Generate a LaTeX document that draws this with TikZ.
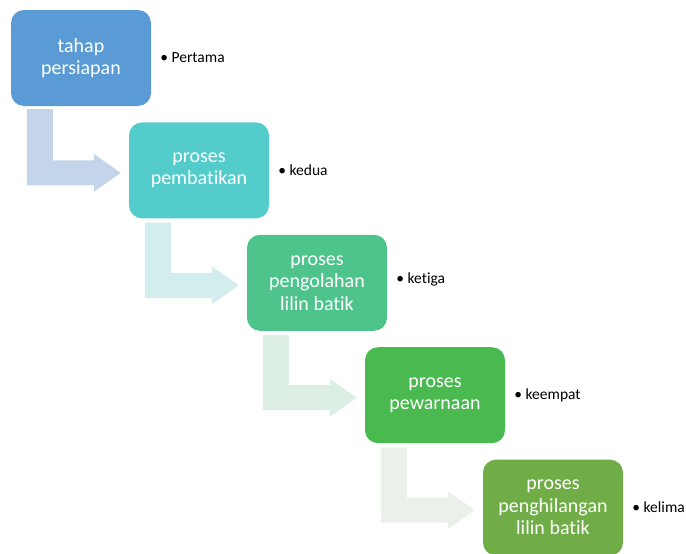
\documentclass[tikz,border=0pt]{standalone}
\usepackage{fontspec}
\setmainfont{Carlito}[Ligatures={NoCommon}]
\usetikzlibrary{positioning,calc}
\definecolor{StageBlue}{RGB}{91,155,213}
\definecolor{StageTeal}{RGB}{84,204,204}
\definecolor{StageSea}{RGB}{78,196,140}
\definecolor{StageGreen}{RGB}{74,185,80}
\definecolor{StageOlive}{RGB}{112,173,71}
\definecolor{ArrowBlue}{RGB}{196,213,235}
\definecolor{ArrowTeal}{RGB}{211,236,236}
\definecolor{ArrowSea}{RGB}{221,239,229}
\definecolor{ArrowGreen}{RGB}{233,241,232}
\tikzset{
  stagebox/.style={rounded corners=13pt,minimum width=140pt,minimum height=96pt,
    inner sep=0pt,align=center,text=white,font=\fontsize{20}{22.5}\selectfont},
  tagtext/.style={inner sep=0pt,font=\fontsize{15.5}{18}\selectfont},
  bentflow/.style={draw=none}
}
\begin{document}
\begin{tikzpicture}
  \useasboundingbox (0,0) rectangle (686pt,-554pt);
  \node[stagebox,fill=StageBlue] (tahap) at (81pt,-58pt) {tahap\\persiapan};
  \node[stagebox,fill=StageTeal,below=16pt of tahap,xshift=118pt] (pembatikan) {proses\\pembatikan};
  \node[stagebox,fill=StageSea,below=16pt of pembatikan,xshift=118pt] (pengolahan) {proses\\pengolahan\\lilin batik};
  \node[stagebox,fill=StageGreen,below=16pt of pengolahan,xshift=118pt] (pewarnaan) {proses\\pewarnaan};
  \node[stagebox,fill=StageOlive,below=16pt of pewarnaan,xshift=118pt] (penghilangan) {proses\\penghilangan\\lilin batik};
  \node[tagtext,right=9pt of tahap] (pertama) {• Pertama};
  \node[tagtext,right=9pt of pembatikan] (kedua) {• kedua};
  \node[tagtext,right=9pt of pengolahan,yshift=3pt] (ketiga) {• ketiga};
  \node[tagtext,right=9pt of pewarnaan] (keempat) {• keempat};
  \node[tagtext,right=9pt of penghilangan] (kelima) {• kelima};
  % bent arrows between the stages
  \fill[bentflow,ArrowBlue] ($(tahap.south west)+(16pt,-3pt)$) coordinate (a1) -- ++(26pt,0)
    |- ($(pembatikan.west)+(-35pt,10pt)$) -- ++(0,6.5pt) -- ($(pembatikan.west)+(-8pt,-2.5pt)$)
    -- ++(-27pt,-19pt) -- ++(0,6.5pt) -| (a1) -- cycle;
  \fill[bentflow,ArrowTeal] ($(pembatikan.south west)+(16pt,-4pt)$) coordinate (a2) -- ++(26pt,0)
    |- ($(pengolahan.west)+(-35pt,10pt)$) -- ++(0,6.5pt) -- ($(pengolahan.west)+(-8pt,-2.5pt)$)
    -- ++(-27pt,-19pt) -- ++(0,6.5pt) -| (a2) -- cycle;
  \fill[bentflow,ArrowSea] ($(pengolahan.south west)+(16pt,-4pt)$) coordinate (a3) -- ++(26pt,0)
    |- ($(pewarnaan.west)+(-35pt,10pt)$) -- ++(0,6.5pt) -- ($(pewarnaan.west)+(-8pt,-2.5pt)$)
    -- ++(-27pt,-19pt) -- ++(0,6.5pt) -| (a3) -- cycle;
  \fill[bentflow,ArrowGreen] ($(pewarnaan.south west)+(16pt,-4pt)$) coordinate (a4) -- ++(26pt,0)
    |- ($(penghilangan.west)+(-35pt,10pt)$) -- ++(0,6.5pt) -- ($(penghilangan.west)+(-8pt,-2.5pt)$)
    -- ++(-27pt,-19pt) -- ++(0,6.5pt) -| (a4) -- cycle;
\end{tikzpicture}
\end{document}
